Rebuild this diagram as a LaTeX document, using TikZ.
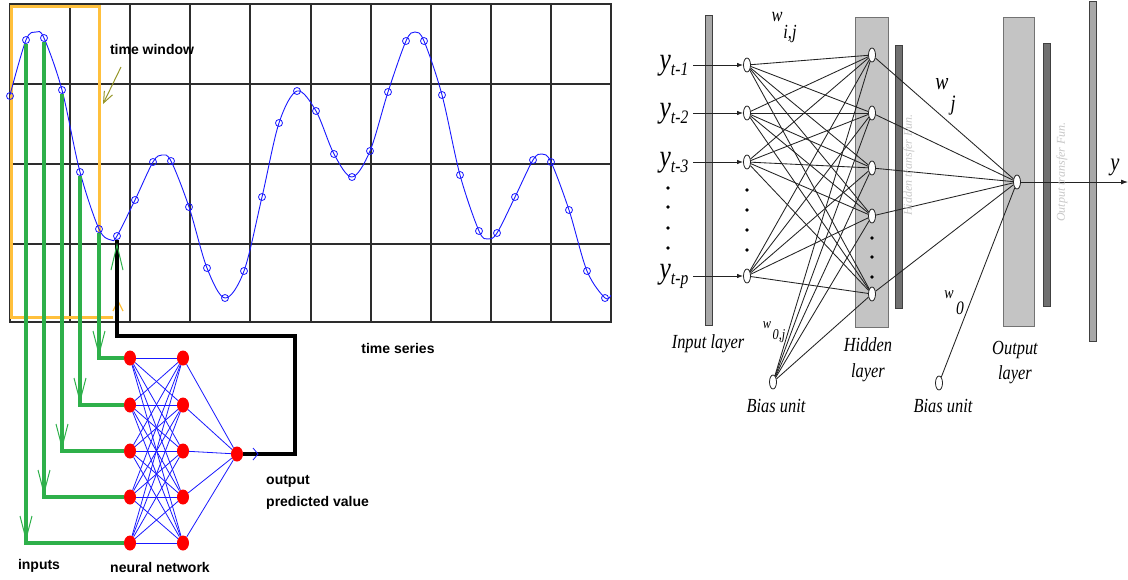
\documentclass[tikz,border=0pt]{standalone}
\usepackage{fontspec}
\setmainfont{Liberation Sans}
\newfontfamily\serifit{Liberation Serif}
\usetikzlibrary{arrows.meta,calc,shapes.geometric}
\definecolor{gridc}{RGB}{45,45,45}
\definecolor{winc}{RGB}{255,192,60}
\definecolor{grn}{RGB}{46,176,74}
\definecolor{oliv}{RGB}{150,150,40}
\definecolor{curvec}{RGB}{25,25,255}
\definecolor{lgray}{RGB}{196,196,196}
\definecolor{dgray}{RGB}{112,112,112}
\definecolor{mgray}{RGB}{168,168,168}
\definecolor{lnc}{RGB}{35,35,35}
\definecolor{faint}{RGB}{200,200,200}
\newcommand{\sqz}[1]{\scalebox{0.82}[1]{#1}}
\pgfdeclarelayer{bg}
\pgfdeclarelayer{mid}
\pgfsetlayers{bg,mid,main}
\begin{document}
\begin{tikzpicture}[x=1pt,y=-1pt,
  gridl/.style={draw=gridc,line width=1.4pt},
  curve/.style={draw=curvec,line width=0.9pt},
  mk/.style={circle,draw=curvec,line width=0.8pt,minimum size=7pt,inner sep=0pt},
  win/.style={draw=winc,line width=3pt},
  winthin/.style={draw=winc,line width=1.2pt},
  gline/.style={draw=grn,line width=4pt},
  gv/.style={draw=grn,line width=1pt},
  rn/.style={ellipse,fill=red,minimum width=12pt,minimum height=15pt,inner sep=0pt},
  bl/.style={draw=curvec,line width=0.8pt},
  fb/.style={draw=black,line width=4pt},
  lab/.style={font=\fontsize{14}{15}\selectfont\bfseries,inner sep=0pt},
  bar/.style={draw=black!75,line width=0.8pt},
  wn/.style={ellipse,draw=lnc,fill=white,minimum width=7pt,minimum height=14pt,inner sep=0pt,line width=0.8pt},
  cn/.style={draw=lnc,line width=0.85pt},
  rt/.style={font=\serifit\itshape\fontsize{20}{20}\selectfont,inner sep=0pt},
  ft/.style={font=\serifit\itshape\fontsize{12}{12}\selectfont,text=faint,inner sep=0pt,rotate=90}]
\useasboundingbox (0,0) rectangle (1128,579);
\begin{pgfonlayer}{bg}
\fill[white] (0,0) rectangle (1128,579);
% chart grid
\foreach \gx in {70,130,190,250,311,371,431,491,551} \draw[gridl] (\gx,4) -- (\gx,322);
\foreach \gy in {84,164,244} \draw[gridl] (10,\gy) -- (611,\gy);
\draw[gridl] (10,4) rectangle (611,322);
% time window
\draw[win] (113,317) -- (11,317) -- (11,6) -- (99,6) -- (99,317);
\draw[winthin] (113,311) -- (118,301) -- (123,311);
% curve
\begin{scope}
\clip (10,4) rectangle (611,322);
\draw[curve] plot[smooth,tension=0.55] coordinates {(10,95) (26,40) (36,32) (44,38) (62,90) (80,172) (99,229) (111,240) (117,236) (135,200) (153,162) (162,155) (171,161) (189,207) (207,268) (225,298) (244,271) (262,197) (279,123) (297,91) (316,111) (334,154) (352,177) (370,151) (388,92) (406,41) (415,32) (424,41) (442,95) (460,175) (479,231) (488,239) (497,233) (515,197) (533,160) (542,154) (551,162) (569,210) (587,271) (605,298) (611,295)};
\end{scope}
% right panel bars
\draw[bar,fill=mgray] (705,15) rectangle (712,325);
\draw[bar,draw=black!55,fill=lgray] (855,17) rectangle (888,327);
\draw[bar,fill=dgray] (895,45) rectangle (902,308);
\draw[bar,draw=black!55,fill=lgray] (1003,17) rectangle (1034,326);
\draw[bar,fill=dgray] (1043,43) rectangle (1050,306);
\draw[bar,fill=mgray] (1089,1) rectangle (1096,341);
\end{pgfonlayer}

% markers on the curve
\foreach \mx/\my [count=\i] in {10/96,26/40,44/38,62/90,80/172,99/229,117/236,135/200,153/162,171/161,189/207,207/268,225/298,244/271,262/197,279/123,297/91,316/111,334/154,352/177,370/151,388/92,406/41,424/41,442/95,460/175,479/231,497/233,515/197,533/160,551/162,569/210,587/271,605/298}
  \node[mk] (m\i) at (\mx,\my) {};

% neural network (left)
\foreach \yy [count=\i] in {358,405,451,497,543} {
  \node[rn] (i\i) at (130,\yy) {};
  \node[rn] (h\i) at (183,\yy) {};
}
\node[rn] (o) at (237,454) {};
\coordinate (fbR) at (295,336);

\begin{pgfonlayer}{mid}
\foreach \a in {1,...,5} {
  \foreach \b in {1,...,5} \draw[bl] (i\a) -- (h\b);
  \draw[bl] (h\a) -- (o);
}
\foreach \m/\n in {2/5,3/4,4/3,5/2,6/1} {
  \draw[gline] (m\m) |- (i\n);
  \draw[gv] ($(m\m|-i\n)+(-6,-27)$) -- ($(m\m|-i\n)+(0,-4)$) -- ($(m\m|-i\n)+(6,-27)$);
}
\draw[fb] (o) -| (fbR) -| (m7);
\draw[gv] ($(m7)+(-6,34)$) -- ($(m7)+(0,9)$) -- ($(m7)+(6,34)$);
\draw[bl] ($(o)+(16,-6)$) -- ($(o)+(21,0)$) -- ($(o)+(16,6)$);
\end{pgfonlayer}

% time window arrow
\coordinate (twA) at (121,67);
\coordinate (twB) at (103,104);
\draw[draw=oliv,line width=1pt,-{Straight Barb[length=11pt,width=9pt]}] (twA) -- (twB);

% left labels
\node[lab] (tw) at (152,49) {time window};
\node[lab] (ts) at (398,348) {time series};
\node[lab,anchor=west] (out1) at (266,481) {output};
\node[lab,anchor=west] (out2) at (266,503) {predicted value};
\node[lab] (inp) at (39,566) {inputs};
\node[lab] (nn) at (160,567) {neural network};

% right panel nodes
\foreach \yy [count=\i] in {65,113,162,276} {
  \node[wn] (x\i) at (747,\yy) {};
  \coordinate (a\i) at (693,\yy);
}
\foreach \yy [count=\i] in {55,113,168,216,294} \node[wn] (hh\i) at (872,\yy) {};
\node[wn] (b1) at (773,382) {};
\node[wn] (b2) at (939,383) {};
\node[wn] (out) at (1017,182) {};
\coordinate (yend) at (1128,182);

\begin{pgfonlayer}{mid}
\foreach \a in {1,...,4} {
  \foreach \b in {1,...,5} \draw[cn] (x\a) -- (hh\b);
  \draw[cn,-{Latex[length=6pt,width=4.5pt]}] (a\a) -- (x\a);
}
\foreach \b in {1,...,5} {
  \draw[cn] (b1) -- (hh\b);
  \draw[cn] (hh\b) -- (out);
}
\draw[cn] (b2) -- (out);
\draw[cn,-{Latex[length=7pt,width=5pt]}] (out) -- (yend);
\end{pgfonlayer}

% dots
\foreach \yy in {188,207,228,248} \fill[black] (668,\yy) circle (1.9);
\foreach \yy in {190,210,230,250} \fill[black] (747,\yy) circle (1.9);
\foreach \yy in {238,257,277} \fill[black] (872,\yy) circle (1.9);

% right labels
\node[rt] (ly1) at (674,66) {\sqz{\fontsize{31}{31}\selectfont y\fontsize{19}{19}\selectfont\raisebox{-6pt}{t-1}}};
\node[rt] (ly2) at (674,114) {\sqz{\fontsize{31}{31}\selectfont y\fontsize{19}{19}\selectfont\raisebox{-6pt}{t-2}}};
\node[rt] (ly3) at (674,163) {\sqz{\fontsize{31}{31}\selectfont y\fontsize{19}{19}\selectfont\raisebox{-6pt}{t-3}}};
\node[rt] (lyp) at (674,276) {\sqz{\fontsize{31}{31}\selectfont y\fontsize{19}{19}\selectfont\raisebox{-6pt}{t-p}}};
\node[rt] (wij) at (777,17) {\sqz{w}};
\node[rt] (wijs) at (790,34) {\sqz{i,j}};
\node[rt,font=\serifit\itshape\fontsize{24}{24}\selectfont] (wj) at (942,84) {\sqz{w}};
\node[rt,font=\serifit\itshape\fontsize{22}{22}\selectfont] (wjs) at (953,106) {\sqz{j}};
\node[rt,font=\serifit\itshape\fontsize{15}{15}\selectfont] (w0j) at (767,325) {\sqz{w}};
\node[rt,font=\serifit\itshape\fontsize{15}{15}\selectfont] (w0js) at (779,336) {\sqz{0,j}};
\node[rt,font=\serifit\itshape\fontsize{17}{17}\selectfont] (w0) at (949,295) {\sqz{w}};
\node[rt,font=\serifit\itshape\fontsize{19}{19}\selectfont] (w0s) at (960,308) {\sqz{0}};
\node[rt,font=\serifit\itshape\fontsize{25}{25}\selectfont] (yo) at (1115,167) {\sqz{y}};
\node[rt] (il) at (708,344) {\sqz{Input layer}};
\node[rt] (hl1) at (868,345) {\sqz{Hidden}};
\node[rt] (hl2) at (868,373) {\sqz{layer}};
\node[rt] (ol1) at (1015,350) {\sqz{Output}};
\node[rt] (ol2) at (1015,375) {\sqz{layer}};
\node[rt] (bu1) at (776,406) {\sqz{Bias unit}};
\node[rt] (bu2) at (943,406) {\sqz{Bias unit}};
\node[ft] (hf) at (909,165) {Hidden transfer Fun.};
\node[ft] (of) at (1062,172) {Output transfer Fun.};
\end{tikzpicture}
\end{document}
